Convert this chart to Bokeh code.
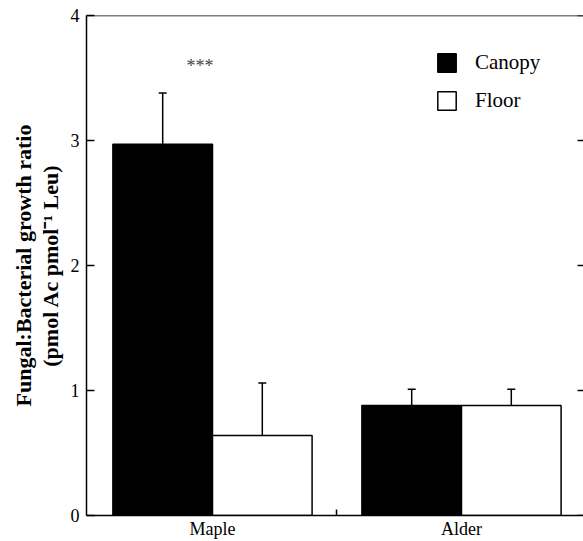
import math
from bokeh.plotting import figure
from bokeh.models import (Range1d, FixedTicker, Whisker, ColumnDataSource,
                          Legend, LegendItem, TeeHead, Span)
from bokeh.core.properties import value
from bokeh.embed import file_html
from bokeh.resources import INLINE

# ---- data ----
sites = ["Maple", "Alder"]
site_pos = [1, 2]
canopy = [2.97, 0.88]
canopy_se = [0.41, 0.13]
floor = [0.64, 0.88]
floor_se = [0.42, 0.13]
y_ticks = [0, 1, 2, 3, 4]
sig_text = ["***"]
sig_x = [0.95]
sig_y = [3.6]

FONT = "Liberation Serif"
bar_w = 0.4
x_lo, x_hi = 0.494, 2.49

p = figure(width=583, height=541, x_range=Range1d(x_lo, x_hi), y_range=Range1d(0, 4),
           output_backend="svg", toolbar_location=None,
           min_border_left=86, min_border_top=15, min_border_bottom=24, min_border_right=0)
p.xgrid.visible = False
p.ygrid.visible = False
p.outline_line_color = None

cx = [s - bar_w / 2 for s in site_pos]
fx = [s + bar_w / 2 for s in site_pos]
src_c = ColumnDataSource(dict(x=cx, top=canopy,
                              upper=[v + e for v, e in zip(canopy, canopy_se)],
                              lower=[v - e for v, e in zip(canopy, canopy_se)]))
src_f = ColumnDataSource(dict(x=fx, top=floor,
                              upper=[v + e for v, e in zip(floor, floor_se)],
                              lower=[v - e for v, e in zip(floor, floor_se)]))

r_c = p.vbar(x="x", top="top", width=bar_w, source=src_c, fill_color="black",
             line_color="black", line_width=1.5)
r_f = p.vbar(x="x", top="top", width=bar_w, source=src_f, fill_color="white",
             line_color="black", line_width=1.5)

for src in (src_c, src_f):
    w = Whisker(base="x", upper="upper", lower="lower", source=src,
                line_color="black", line_width=1.5,
                upper_head=TeeHead(size=8, line_color="black", line_width=1.5),
                lower_head=TeeHead(size=8, line_color="black", line_width=1.5))
    p.add_layout(w)

p.text(x=sig_x, y=sig_y, text=sig_text, text_font=value(FONT), text_font_size="18px",
       text_color="#444444", text_align="center", text_baseline="middle")

# top frame line and inward right-hand ticks
p.add_layout(Span(location=y_ticks[-1], dimension="width", line_color="black", line_width=1.5))
p.ray(x=[x_hi] * len(y_ticks), y=y_ticks, length=6, length_units="screen", angle=math.pi,
      line_color="black", line_width=1.5)

# axes
p.yaxis.ticker = FixedTicker(ticks=y_ticks, minor_ticks=[])
p.yaxis.major_tick_in = 8
p.yaxis.major_tick_out = 0
p.yaxis.major_tick_line_width = 1.5
p.yaxis.axis_line_width = 1.5
p.yaxis.major_label_text_font = FONT
p.yaxis.major_label_text_font_size = "18px"
p.yaxis.major_label_text_color = "black"
p.yaxis.major_label_standoff = 7
p.yaxis.axis_label = "Fungal:Bacterial growth ratio\n(pmol Ac pmol\u207b\u00b9 Leu)"
p.yaxis.axis_label_text_font = FONT
p.yaxis.axis_label_text_font_style = "bold"
p.yaxis.axis_label_text_font_size = "22px"
p.yaxis.axis_label_text_line_height = 1.05
p.yaxis.axis_label_text_color = "black"
p.yaxis.axis_label_standoff = 5

p.xaxis.ticker = FixedTicker(ticks=site_pos, minor_ticks=[1.5])
p.xaxis.major_label_overrides = {s: n for s, n in zip(site_pos, sites)}
p.xaxis.major_tick_in = 0
p.xaxis.major_tick_out = 0
p.xaxis.minor_tick_in = 6
p.xaxis.minor_tick_out = 0
p.xaxis.minor_tick_line_width = 1.5
p.xaxis.axis_line_width = 1.5
p.xaxis.major_label_text_font = FONT
p.xaxis.major_label_text_font_size = "18px"
p.xaxis.major_label_text_color = "black"
p.xaxis.major_label_standoff = 3

legend = Legend(items=[LegendItem(label="Canopy", renderers=[r_c]),
                       LegendItem(label="Floor", renderers=[r_f])],
                location=(349, 402), glyph_width=23, glyph_height=23, spacing=13,
                label_standoff=17, label_text_font=FONT, label_text_font_size="21px",
                label_text_color="black", border_line_color=None,
                background_fill_alpha=0, padding=0, margin=0)
p.add_layout(legend)

open("out.html", "w").write(file_html(p, INLINE))
